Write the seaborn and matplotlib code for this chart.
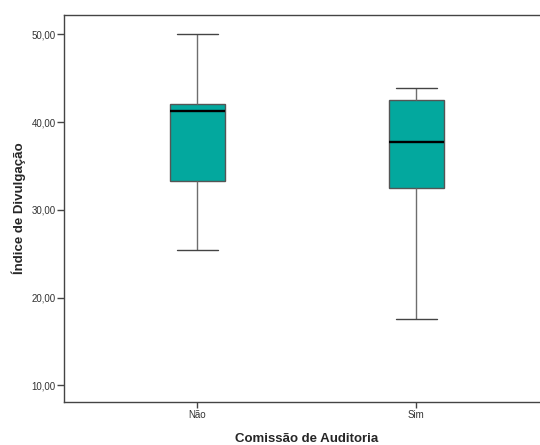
import numpy as np
import pandas as pd
import matplotlib
matplotlib.use("Agg")
import matplotlib.pyplot as plt
import seaborn as sns

# Resumo de cinco números (mín, Q1, mediana, Q3, máx)
categorias = ["Não", "Sim"]
nao_vals = [25.4, 33.3, 41.3, 42.1, 50.0]
sim_vals = [17.6, 32.5, 37.75, 42.55, 43.9]
y_ticks = [10, 20, 30, 40, 50]

df = pd.DataFrame({
    "Comissão de Auditoria": [categorias[0]] * len(nao_vals) + [categorias[1]] * len(sim_vals),
    "Índice de Divulgação": nao_vals + sim_vals,
})

sns.set_style("white")
plt.rcParams["font.family"] = ["Liberation Sans", "DejaVu Sans"]

fig = plt.figure(figsize=(5.4, 4.45), dpi=100)
ax = fig.add_axes([0.1185, 0.0966, 0.8815, 0.8697])

sns.boxplot(
    data=df, x="Comissão de Auditoria", y="Índice de Divulgação",
    order=categorias, whis=(0, 100), width=0.25, color="#03A89E",
    saturation=1, ax=ax,
    boxprops=dict(edgecolor="#555555", linewidth=1.0),
    whiskerprops=dict(color="#6e6e6e", linewidth=1.0),
    capprops=dict(color="#444444", linewidth=1.0),
    medianprops=dict(color="black", linewidth=1.7),
    capwidths=0.19,
)

ax.set_xlim(-0.61, 1.565)
ax.set_ylim(8.1, 52.2)
ax.set_yticks(y_ticks)
ax.set_yticklabels([f"{v:.2f}".replace(".", ",") for v in y_ticks])

for side in ["left", "bottom", "top"]:
    ax.spines[side].set_color("#444444")
    ax.spines[side].set_linewidth(1.0)
ax.spines["right"].set_visible(False)

ax.tick_params(axis="y", direction="out", length=5, width=1, color="#444444",
               labelsize=7, labelcolor="#333333", pad=1, left=True)
ax.tick_params(axis="x", direction="out", length=4, width=1, color="#444444",
               labelsize=7, labelcolor="#333333", pad=2, bottom=True)

ax.set_xlabel("Comissão de Auditoria", fontsize=9.5, fontweight="bold")
ax.set_ylabel("Índice de Divulgação", fontsize=9.5, fontweight="bold", labelpad=4)
ax.xaxis.set_label_coords(0.51, -0.08)

fig.savefig("out.png", dpi=100)
